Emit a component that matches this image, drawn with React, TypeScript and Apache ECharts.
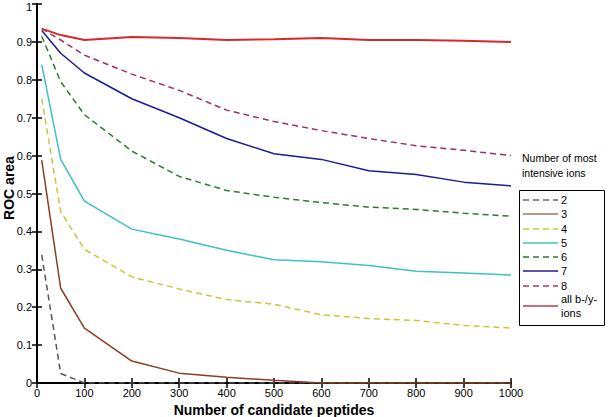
import React, { useEffect, useRef } from "react";
import * as echarts from "echarts";

const xValues = [10, 50, 100, 200, 300, 400, 500, 600, 700, 800, 900, 1000];
const s2 = [0.338, 0.025, 0, 0, 0, 0, 0, 0, 0, 0, 0, 0];
const s3 = [0.588, 0.25, 0.145, 0.058, 0.026, 0.015, 0.007, 0, 0, 0, 0, 0];
const s4 = [0.75, 0.452, 0.353, 0.28, 0.248, 0.22, 0.208, 0.18, 0.17, 0.165, 0.152, 0.145];
const s5 = [0.84, 0.59, 0.48, 0.406, 0.38, 0.35, 0.325, 0.32, 0.31, 0.295, 0.29, 0.285];
const s6 = [0.915, 0.795, 0.708, 0.612, 0.545, 0.508, 0.49, 0.476, 0.464, 0.458, 0.448, 0.44];
const s7 = [0.93, 0.87, 0.818, 0.75, 0.7, 0.645, 0.605, 0.59, 0.56, 0.55, 0.53, 0.52];
const s8 = [0.935, 0.905, 0.865, 0.815, 0.772, 0.72, 0.69, 0.666, 0.645, 0.626, 0.614, 0.6];
const sAll = [0.935, 0.918, 0.905, 0.913, 0.91, 0.905, 0.907, 0.91, 0.905, 0.905, 0.903, 0.9];
const seriesNames = ["2", "3", "4", "5", "6", "7", "8", "all b-/y-\nions"];
const seriesData = [s2, s3, s4, s5, s6, s7, s8, sAll];
const seriesColors = ["#555555", "#8b3f20", "#c8c83a", "#3cc2c0", "#2e7a2e", "#1c1c96", "#a02c6c", "#d62a2a"];
const legendColors = ["#666666", "#9a7b5f", "#c8cc40", "#40c4c0", "#2e7a2e", "#1c1c96", "#b0306a", "#b04050"];
const seriesDashed = [true, false, true, false, true, false, true, false];
const legendTitle = "Number of most\nintensive ions";
const yTitle = "ROC area";
const xTitle = "Number of candidate peptides";

export default function App() {
  const ref = useRef<HTMLDivElement>(null);
  useEffect(() => {
    if (!ref.current) return;
    const chart = echarts.init(ref.current, null, { renderer: "svg" });
    const font = "Liberation Sans, Arial, sans-serif";
    const series = seriesNames.map((name, i) => ({
      name,
      type: "line",
      symbol: "none",
      data: xValues.map((x, j) => [x, seriesData[i][j]]),
      lineStyle: {
        color: seriesColors[i],
        width: i === 7 ? 2 : 1.5,
        type: seriesDashed[i] ? [6, 4] : "solid",
      },
      itemStyle: { color: seriesColors[i] },
      z: 3 + i,
    }));

    const graphics: any[] = [
      {
        type: "rect",
        shape: { x: 519.5, y: 190.5, width: 85, height: 135 },
        style: { fill: "#fff", stroke: "#000", lineWidth: 1 },
        z: 10,
      },
      {
        type: "text",
        x: 522,
        y: 150,
        style: { text: legendTitle, fontSize: 10.5, fontFamily: font, fill: "#000", lineHeight: 15 },
        z: 10,
      },
      {
        type: "text",
        x: 9,
        y: 188,
        rotation: Math.PI / 2,
        style: {
          text: yTitle,
          fontSize: 14,
          fontWeight: "bold",
          fontFamily: font,
          fill: "#000",
          align: "center",
          verticalAlign: "middle",
        },
        z: 10,
      },
    ];
    const itemYs = [200, 214, 229, 243, 257, 271, 286, 306];
    seriesNames.forEach((name, i) => {
      graphics.push({
        type: "line",
        shape: { x1: 523, y1: itemYs[i], x2: 558, y2: itemYs[i] },
        style: {
          stroke: legendColors[i],
          lineWidth: 1.5,
          lineDash: seriesDashed[i] ? [6, 4] : null,
        },
        z: 11,
      });
      graphics.push({
        type: "text",
        x: 561,
        y: itemYs[i],
        style: {
          text: name,
          fontSize: 11,
          fontFamily: font,
          fill: "#000",
          verticalAlign: "middle",
          lineHeight: 14,
        },
        z: 11,
      });
    });

    chart.setOption({
      animation: false,
      grid: { left: 37, right: 98, top: 4, bottom: 34, outerBoundsMode: "none", containLabel: false },
      xAxis: [
        {
          type: "value",
          min: 0,
          max: 1000,
          interval: 100,
          axisLine: { lineStyle: { color: "#000", width: 2 } },
          axisTick: { inside: true, length: 5, lineStyle: { color: "#000", width: 1.5 } },
          axisLabel: { color: "#000", fontSize: 11, fontFamily: font, margin: 4, formatter: (v: number) => String(v) },
          splitLine: { show: false },
          name: xTitle,
          nameLocation: "middle",
          nameGap: 19,
          nameTextStyle: { color: "#000", fontSize: 14, fontWeight: "bold", fontFamily: font },
        },
        {
          type: "value",
          position: "top",
          min: 0,
          max: 1000,
          interval: 100,
          axisLine: { show: true, lineStyle: { color: "#000", width: 2 } },
          axisTick: { show: true, inside: true, length: 5, lineStyle: { color: "#000", width: 1.5 } },
          axisLabel: { show: false },
          splitLine: { show: false },
        },
      ],
      yAxis: [
        {
          type: "value",
          min: 0,
          max: 1,
          interval: 0.1,
          axisLine: { show: true, lineStyle: { color: "#000", width: 2 } },
          axisTick: { show: true, inside: true, length: 5, lineStyle: { color: "#000", width: 1.5 } },
          axisLabel: {
            color: "#000",
            fontSize: 11,
            fontFamily: font,
            margin: 5,
            formatter: (v: number) => {
              const s = String(Math.round(v * 10) / 10);
              return v >= 1 ? "{t|" + s + "}" : s;
            },
            rich: {
              t: { fontSize: 11, fontFamily: font, color: "#000", padding: [5, 0, 0, 0] },
            },
          },
          splitLine: { show: false },
        },
        {
          type: "value",
          position: "right",
          min: 0,
          max: 1,
          interval: 0.1,
          axisLine: { show: true, lineStyle: { color: "#000", width: 2 } },
          axisTick: { show: true, inside: true, length: 5, lineStyle: { color: "#000", width: 1.5 } },
          axisLabel: { show: false },
          splitLine: { show: false },
        },
      ],
      graphic: graphics,
      series,
    });
    return () => chart.dispose();
  }, []);
  return <div ref={ref} style={{ width: 609, height: 417, position: "absolute", left: 0, top: 0, background: "#fff" }} />;
}
